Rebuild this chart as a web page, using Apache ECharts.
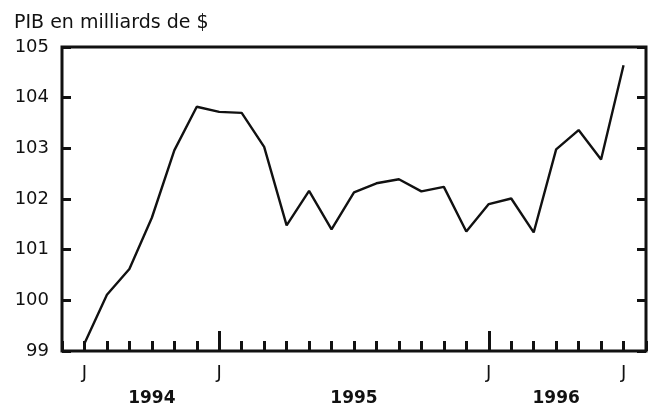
<!DOCTYPE html>
<html>
<head>
<meta charset="utf-8">
<script src="https://cdn.jsdelivr.net/npm/echarts@6/dist/echarts.min.js"></script>
<style>
html,body{margin:0;padding:0;background:#fff;}
#chart{width:655px;height:409px;}
</style>
</head>
<body>
<div id="chart"></div>
<script>
// Data (monthly, July 1994 to July 1996)
const months = ['1994-07','1994-08','1994-09','1994-10','1994-11','1994-12',
  '1995-01','1995-02','1995-03','1995-04','1995-05','1995-06','1995-07','1995-08','1995-09','1995-10','1995-11','1995-12',
  '1996-01','1996-02','1996-03','1996-04','1996-05','1996-06','1996-07'];
const gdp = [99.15, 100.11, 100.62, 101.63, 102.96, 103.82, 103.72, 103.70, 103.03, 101.48, 102.16, 101.40,
  102.13, 102.31, 102.39, 102.15, 102.24, 101.36, 101.90, 102.01, 101.34, 102.98, 103.36, 102.78, 104.64];
const labelledMonths = ['1994-07','1995-01','1996-01','1996-07'];
const monthInitials = ['J','F','M','A','M','J','J','A','S','O','N','D'];
const yearLabels = ['1994','1995','1996'];
const titleText = 'PIB en milliards de $';
const yMin = 99, yMax = 105, yStep = 1;

// Derived
const seriesData = gdp.map((v, i) => [i, v]);
const monthLabelIdx = labelledMonths.map(m => months.indexOf(m));
const yearStartIdx = months.map((m, i) => m.endsWith('-01') ? i : -1).filter(i => i >= 0);
const yearCenters = {};
yearLabels.forEach(y => {
  const idx = months.map((m, i) => m.startsWith(y) ? i : -1).filter(i => i >= 0);
  const first = idx[0];
  const nextStart = months.indexOf((+y + 1) + '-01');
  const end = nextStart >= 0 ? nextStart : idx[idx.length - 1];
  yearCenters[(first + end) / 2] = y;
});
const yearCenterVals = Object.keys(yearCenters).map(Number);

const FONT = 'DejaVu Sans';
const chart = echarts.init(document.getElementById('chart'), null, {renderer: 'canvas'});
chart.setOption({
  animation: false,
  backgroundColor: '#fff',
  title: {
    text: titleText, left: 9, top: 9,
    textStyle: {fontFamily: FONT, fontSize: 19, fontWeight: 'normal', color: '#111'}
  },
  grid: {left: 62, right: 9, top: 47, bottom: 58, show: true, borderColor: '#111', borderWidth: 3, backgroundColor: 'transparent'},
  xAxis: [{
    type: 'value', min: -1, max: months.length, interval: 1,
    axisLine: {show: false, onZero: false},
    splitLine: {show: false},
    axisTick: {show: true, inside: true, length: 10, lineStyle: {color: '#111', width: 3}},
    axisLabel: {
      customValues: monthLabelIdx,
      formatter: v => monthInitials[+months[v].slice(5) - 1],
      fontFamily: FONT, fontSize: 18, color: '#111', margin: 13
    }
  }, {
    type: 'value', min: -1, max: months.length, position: 'bottom',
    axisLine: {show: false, onZero: false},
    splitLine: {show: false},
    axisTick: {show: true, inside: true, length: 20, customValues: yearStartIdx, lineStyle: {color: '#111', width: 3}},
    axisLabel: {
      customValues: yearCenterVals,
      formatter: v => yearCenters[v] || '',
      fontFamily: FONT, fontSize: 17, fontWeight: 'bold', color: '#111', margin: 39
    }
  }],
  yAxis: [{
    type: 'value', min: yMin, max: yMax, interval: yStep, position: 'left',
    axisLine: {show: false, onZero: false},
    splitLine: {show: false},
    axisTick: {show: true, inside: true, length: 9, lineStyle: {color: '#111', width: 3}},
    axisLabel: {fontFamily: FONT, fontSize: 18, color: '#111', margin: 13, padding: [5, 0, 0, 0]}
  }, {
    type: 'value', min: yMin, max: yMax, interval: yStep, position: 'right',
    axisLine: {show: false, onZero: false},
    splitLine: {show: false},
    axisTick: {show: true, inside: true, length: 9, lineStyle: {color: '#111', width: 3}},
    axisLabel: {show: false}
  }],
  series: [{
    type: 'line', data: seriesData, xAxisIndex: 0, yAxisIndex: 0,
    symbol: 'none', lineStyle: {color: '#111', width: 2.4}
  }]
});
</script>
</body>
</html>
